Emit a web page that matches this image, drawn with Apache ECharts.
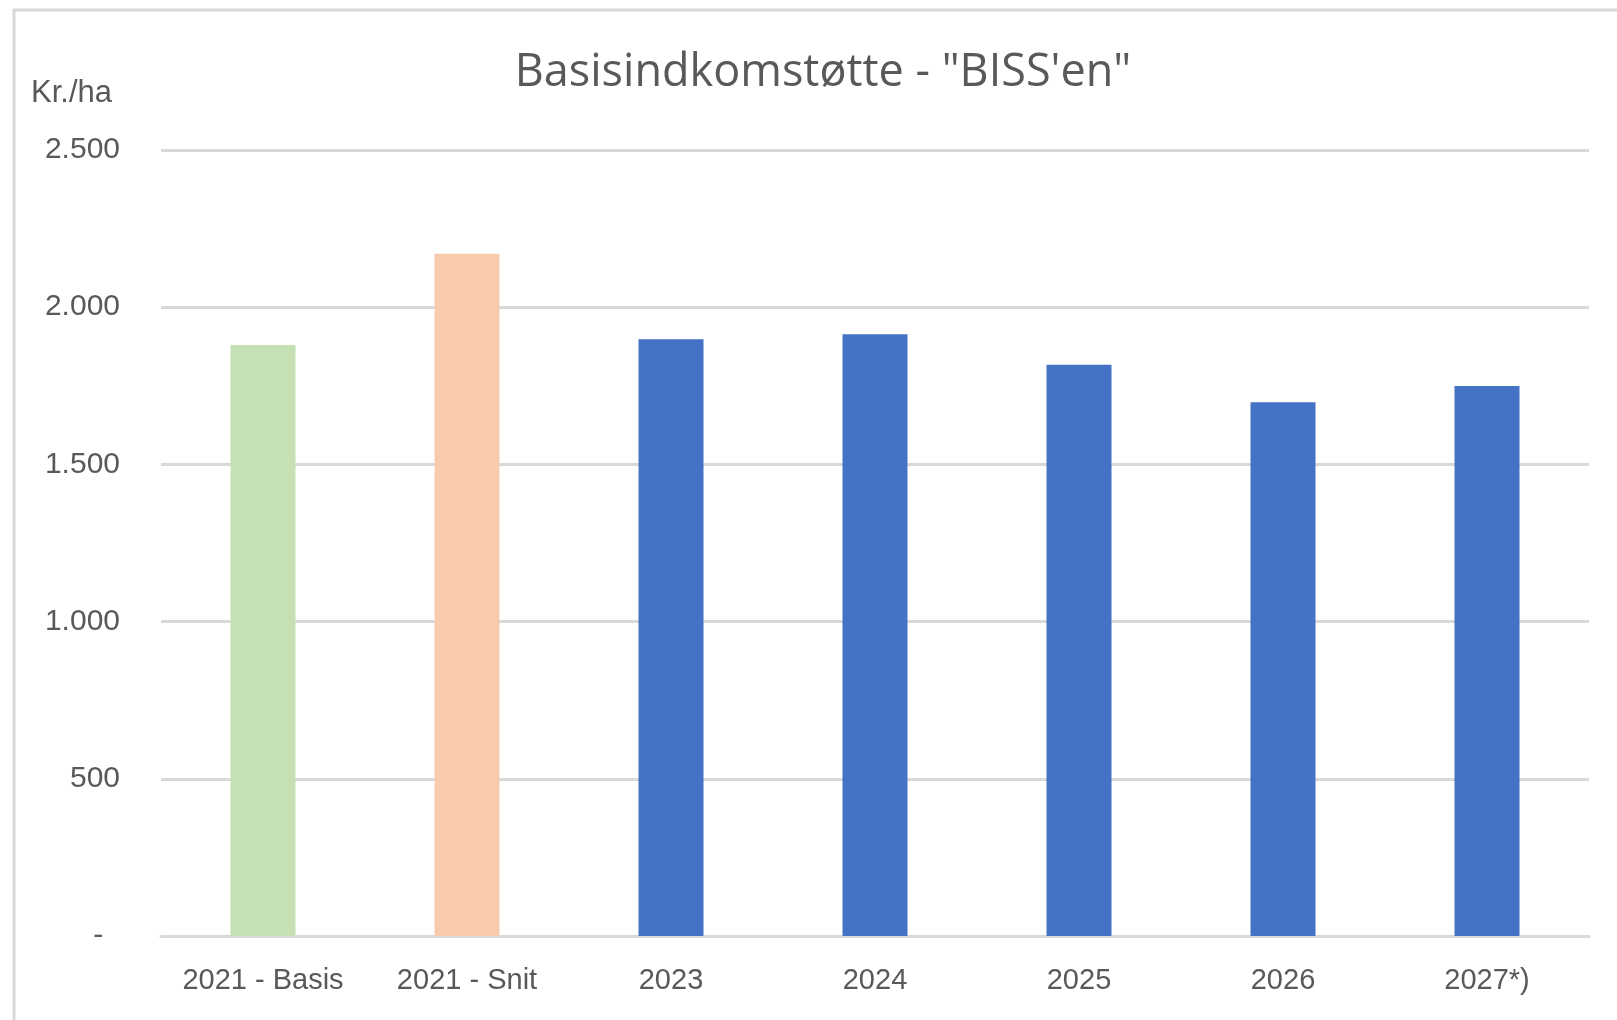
<!DOCTYPE html>
<html>
<head>
<meta charset="utf-8">
<style>
    html, body { margin: 0; padding: 0; background: #fff; }
    #chart { width: 1617px; height: 1020px; }
</style>
<script src="https://cdn.jsdelivr.net/npm/echarts@6/dist/echarts.min.js"></script>
</head>
<body>
<div id="chart"></div>
<script>
const categories = ["2021 - Basis", "2021 - Snit", "2023", "2024", "2025", "2026", "2027*)"];
const values = [1880, 2170, 1898, 1914, 1817, 1698, 1749];
const barColors = ["#c5e0b4", "#f8cbad", "#4472c4", "#4472c4", "#4472c4", "#4472c4", "#4472c4"];
const yTicks = { min: 0, max: 2500, step: 500 };

const titleText = 'Basisindkomstøtte - "BISS\'en"';
const unitText = "Kr./ha";

function formatTick(v) {
    if (v === 0) return "-  ";
    return String(v).replace(/\B(?=(\d{3})+(?!\d))/g, ".");
}

const chart = echarts.init(document.getElementById("chart"));
const font = '"Liberation Sans", Arial, sans-serif';

chart.setOption({
    animation: false,
    title: {
        text: titleText,
        left: 818,
        top: 46,
        textAlign: "center",
        textStyle: {
            fontFamily: '"Open Sans", sans-serif',
            fontSize: 45,
            fontWeight: "normal",
            color: "#595959"
        }
    },
    graphic: [
        {
            type: "rect",
            shape: { x: 14, y: 10, width: 1700, height: 1100 },
            style: { fill: "none", stroke: "#d9d9d9", lineWidth: 3 },
            z: -1
        },
        {
            type: "text",
            left: 31,
            top: 78,
            style: {
                text: unitText,
                font: "31px " + font,
                fill: "#595959"
            }
        }
    ],
    grid: {
        left: 161,
        right: 28,
        top: 150,
        bottom: 84
    },
    xAxis: {
        type: "category",
        data: categories,
        axisLine: { lineStyle: { color: "#d9d9d9", width: 3 } },
        axisTick: { show: false },
        axisLabel: {
            interval: 0,
            margin: 30,
            fontFamily: font,
            fontSize: 29,
            color: "#595959"
        }
    },
    yAxis: {
        type: "value",
        min: yTicks.min,
        max: yTicks.max,
        interval: yTicks.step,
        axisLine: { show: false },
        axisTick: { show: false },
        axisLabel: {
            margin: 41,
            fontFamily: font,
            fontSize: 30,
            color: "#595959",
            formatter: formatTick
        },
        splitLine: { lineStyle: { color: "#d9d9d9", width: 3 } }
    },
    series: [{
        type: "bar",
        data: values.map((v, i) => ({ value: v, itemStyle: { color: barColors[i] } })),
        barWidth: 65
    }]
});
</script>
</body>
</html>
